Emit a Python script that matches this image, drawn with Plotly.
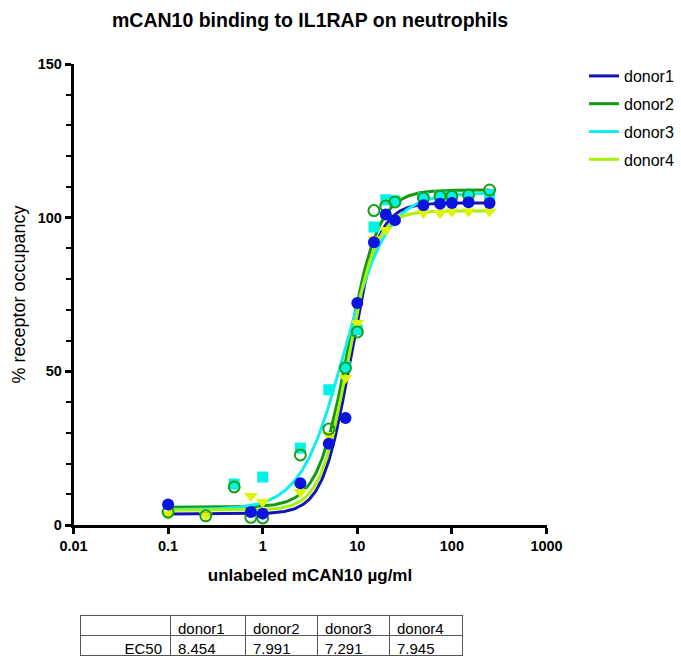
import numpy as np
import plotly.graph_objects as go

W, H = 681, 656
FONT = "Liberation Sans, Arial, Helvetica, sans-serif"

donors = ["donor1", "donor2", "donor3", "donor4"]

# measured points (concentration µg/ml, % receptor occupancy)
d1_x = [0.1, 0.75, 1, 2.5, 5, 7.5, 10, 15, 20, 25, 50, 75, 100, 150, 250]
d1_y = [6.7, 4.2, 3.7, 13.6, 26.4, 34.8, 72.2, 92.0, 101.0, 99.2, 104.0, 104.5, 104.8, 105.0, 104.8]

d2_x = [0.1, 0.25, 0.5, 0.75, 1, 2.5, 5, 7.5, 10, 15, 20, 25, 50, 75, 100, 150, 250]
d2_y = [4.2, 3.0, 12.4, 2.5, 2.3, 22.8, 31.2, 51.1, 62.8, 102.3, 103.8, 105.1, 106.4, 107.0, 107.0, 107.4, 109.0]

d3_x = [0.5, 1, 2.5, 5, 7.5, 10, 15, 20, 25, 50, 75, 100, 150, 250]
d3_y = [13.3, 15.6, 25.0, 44.0, 51.5, 63.5, 97.0, 105.8, 105.5, 106.5, 107.0, 107.0, 107.0, 107.5]

d4_x = [0.1, 0.25, 0.75, 1, 2.5, 5, 7.5, 10, 15, 20, 25, 50, 75, 100, 150, 250]
d4_y = [3.5, 3.2, 9.4, 7.5, 10.7, 29.3, 47.8, 65.7, 93.0, 96.0, 100.0, 101.5, 101.5, 102.0, 102.0, 102.0]

# fitted 4PL parameters (EC50 from the table)
fit_bottom = [3.6, 5.8, 5.0, 4.8]
fit_top = [104.8, 109.0, 108.0, 102.2]
fit_ec50 = [8.454, 7.991, 7.291, 7.945]
fit_hill = [3.0, 2.7, 1.9, 3.0]

ec50_labels = ["8.454", "7.991", "7.291", "7.945"]

line_colors = ["#1414B4", "#119A11", "#10EEEE", "#A8F010"]
marker_colors = ["#0A14DC", "#15A015", "#00F2E6", "#DCF500"]
symbols = ["circle", "circle-open", "square", "triangle-down"]
msizes = [12, 11, 11, 12]

xs = [d1_x, d2_x, d3_x, d4_x]
ys = [d1_y, d2_y, d3_y, d4_y]

fig = go.Figure()

xc = np.logspace(-1, np.log10(250), 300)
for i, name in enumerate(donors):
    yc = fit_bottom[i] + (fit_top[i] - fit_bottom[i]) / (1 + (fit_ec50[i] / xc) ** fit_hill[i])
    fig.add_trace(go.Scatter(x=xc, y=yc, mode="lines", name=name,
                             line=dict(color=line_colors[i], width=3),
                             legendgroup=name, showlegend=True))

# markers: draw order cyan, yellow, green, blue (blue on top)
for i in [2, 3, 1, 0]:
    mk = dict(symbol=symbols[i], size=msizes[i], color=marker_colors[i])
    if symbols[i] == "circle-open":
        mk["line"] = dict(color=marker_colors[i], width=2)
    else:
        mk["line"] = dict(width=0)
    fig.add_trace(go.Scatter(x=xs[i], y=ys[i], mode="markers", marker=mk,
                             name=donors[i], legendgroup=donors[i], showlegend=False))

# EC50 table
col_w = [90, 75, 72, 72, 73]
fig.add_trace(go.Table(
    domain=dict(x=[80 / W, 462 / W], y=[0, 1 - 615 / H]),
    columnwidth=col_w,
    header=dict(values=[""] + donors, height=20,
                align=["left"] * 5,
                line=dict(color="#555555", width=1),
                fill=dict(color="white"),
                font=dict(family=FONT, size=15, color="black")),
    cells=dict(values=[["EC50"]] + [[v] for v in ec50_labels], height=20,
               align=["right", "left", "left", "left", "left"],
               line=dict(color="#555555", width=1),
               fill=dict(color="white"),
               font=dict(family=FONT, size=15, color="black")),
))

x0, x1 = 73.5, 546.5
y0, y1 = 525, 64

fig.update_layout(
    width=W, height=H,
    margin=dict(l=0, r=0, t=0, b=0),
    paper_bgcolor="white", plot_bgcolor="white",
    font=dict(family=FONT, color="black"),
    showlegend=True,
    legend=dict(x=584 / W, y=1 - 59 / H, xanchor="left", yanchor="top",
                font=dict(size=16, family=FONT), tracegroupgap=4,
                bgcolor="rgba(0,0,0,0)", itemwidth=30),
    annotations=[dict(text="<b>mCAN10 binding to IL1RAP on neutrophils</b>",
                      x=310 / W, y=1 - 20 / H, xref="paper", yref="paper",
                      showarrow=False, font=dict(size=19.5, family=FONT),
                      xanchor="center", yanchor="middle")],
)

fig.update_xaxes(
    type="log", range=[-2, 3], domain=[x0 / W, x1 / W],
    showline=True, linecolor="black", linewidth=2.5,
    ticks="outside", ticklen=6, tickwidth=2.5, tickcolor="black",
    tickvals=[0.01, 0.1, 1, 10, 100, 1000],
    ticktext=["<b>0.01</b>", "<b>0.1</b>", "<b>1</b>", "<b>10</b>", "<b>100</b>", "<b>1000</b>"],
    tickfont=dict(size=14.5, family=FONT),
    showgrid=False, zeroline=False, automargin=False,
    title=dict(text="<b>unlabeled mCAN10 µg/ml</b>", font=dict(size=17, family=FONT), standoff=16),
)
fig.update_yaxes(
    range=[0, 150], domain=[1 - y0 / H, 1 - y1 / H],
    showline=True, linecolor="black", linewidth=2.5,
    ticks="outside", ticklen=6, tickwidth=2.5, tickcolor="black",
    tickvals=[0, 50, 100, 150],
    ticktext=["<b>0</b>", "<b>50</b>", "<b>100</b>", "<b>150</b>"],
    tickfont=dict(size=14.5, family=FONT),
    minor=dict(tickvals=[10, 20, 30, 40, 60, 70, 80, 90, 110, 120, 130, 140],
               ticks="outside", ticklen=5, tickwidth=2, tickcolor="black"),
    showgrid=False, zeroline=False, automargin=False,
    title=dict(text="% receptor occupancy", font=dict(size=18, family=FONT), standoff=8),
)

fig.write_html("out.html")
